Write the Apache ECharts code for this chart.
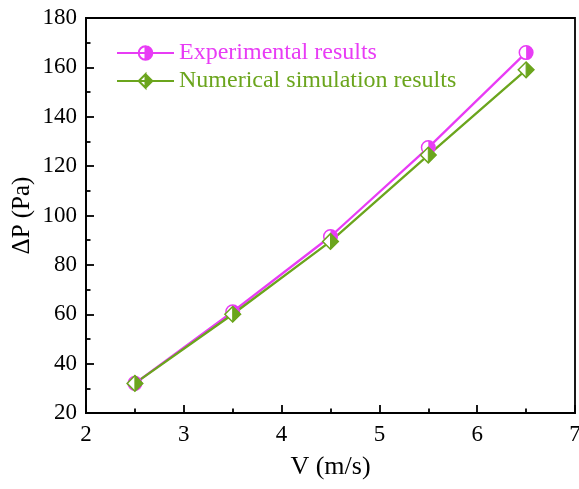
<!DOCTYPE html>
<html>
<head>
<meta charset="utf-8">
<script src="https://cdn.jsdelivr.net/npm/echarts@6/dist/echarts.min.js"></script>
<style>html,body{margin:0;padding:0;background:#fff}#c{width:579px;height:489px}</style>
</head>
<body>
<div id="c"></div>
<script>
const velocities = [2.5, 3.5, 4.5, 5.5, 6.5];
const experimental = [32, 61, 91.5, 127.5, 166];
const numerical = [32, 60, 89.5, 124.5, 159];
const seriesNames = ['Experimental results', 'Numerical simulation results'];

const MAG = '#E83CF5';
const GRN = '#6BA51D';
const FONT = '"Liberation Serif", "Times New Roman", serif';

const pairs = (ys) => velocities.map((v, i) => [v, ys[i]]);

const circlePath = 'path://M0,-10 A10,10 0 1,1 0,10 A10,10 0 1,1 0,-10 Z M0,-10 A10,10 0 0,0 0,10 Z';
const diamondPath = 'path://M0,-10 L10,0 L0,10 L-10,0 Z M0,-10 L-10,0 L0,10 Z';

function circleMarker(params, api) {
  const p = api.coord([api.value(0), api.value(1)]);
  const r = 6.8;
  return { type: 'group', children: [
    { type: 'circle', shape: { cx: p[0], cy: p[1], r: r }, style: { fill: '#fff', stroke: MAG, lineWidth: 1.5 } },
    { type: 'sector', shape: { cx: p[0], cy: p[1], r0: 0, r: r, startAngle: -Math.PI / 2, endAngle: Math.PI / 2 }, style: { fill: MAG } }
  ]};
}
function diamondMarker(params, api) {
  const p = api.coord([api.value(0), api.value(1)]);
  const d = 7.8;
  const x = p[0], y = p[1];
  return { type: 'group', children: [
    { type: 'polygon', shape: { points: [[x, y - d], [x + d, y], [x, y + d], [x - d, y]] }, style: { fill: '#fff', stroke: GRN, lineWidth: 1.5 } },
    { type: 'polygon', shape: { points: [[x, y - d], [x + d, y], [x, y + d]] }, style: { fill: GRN, stroke: GRN, lineWidth: 1 } }
  ]};
}

const chart = echarts.init(document.getElementById('c'), null, { renderer: 'canvas' });
chart.setOption({
  animation: false,
  backgroundColor: '#fff',
  grid: { left: 86, right: 4, top: 18, bottom: 76, show: true, borderColor: '#000', borderWidth: 1.8,
          backgroundColor: 'transparent', outerBoundsMode: 'none', containLabel: false },
  legend: {
    orient: 'vertical', left: 111, top: 36, itemWidth: 57, itemHeight: 17, itemGap: 4,
    data: [
      { name: seriesNames[0], textStyle: { color: MAG } },
      { name: seriesNames[1], textStyle: { color: GRN } }
    ],
    textStyle: { fontFamily: FONT, fontSize: 24 }
  },
  xAxis: {
    type: 'value', min: 2, max: 7, interval: 1,
    name: 'V (m/s)', nameLocation: 'middle', nameGap: 41, nameMoveOverlap: false,
    nameTextStyle: { fontFamily: FONT, fontSize: 26, color: '#000' },
    axisLine: { show: true, lineStyle: { color: '#000', width: 1.8 } },
    axisTick: { show: true, inside: true, length: 8, lineStyle: { color: '#000', width: 1.8 } },
    minorTick: { show: true, splitNumber: 2, length: 4.5, lineStyle: { color: '#000', width: 1.8 } },
    axisLabel: { fontFamily: FONT, fontSize: 23, color: '#000', margin: 10 },
    splitLine: { show: false }
  },
  yAxis: {
    type: 'value', min: 20, max: 180, interval: 20,
    name: 'ΔP (Pa)', nameLocation: 'middle', nameGap: 51, nameMoveOverlap: false,
    nameTextStyle: { fontFamily: FONT, fontSize: 25, color: '#000' },
    axisLine: { show: true, lineStyle: { color: '#000', width: 1.8 } },
    axisTick: { show: true, inside: true, length: 8, lineStyle: { color: '#000', width: 1.8 } },
    minorTick: { show: true, splitNumber: 2, length: 4.5, lineStyle: { color: '#000', width: 1.8 } },
    axisLabel: { fontFamily: FONT, fontSize: 23, color: '#000', margin: 9 },
    splitLine: { show: false }
  },
  series: [
    { name: seriesNames[0], type: 'line', data: pairs(experimental), showSymbol: false,
      symbol: circlePath, color: MAG, lineStyle: { color: MAG, width: 2.3 },
      itemStyle: { color: MAG, borderColor: MAG, borderWidth: 1 }, z: 2 },
    { name: seriesNames[1], type: 'line', data: pairs(numerical), showSymbol: false,
      symbol: diamondPath, color: GRN, lineStyle: { color: GRN, width: 2.3 },
      itemStyle: { color: GRN, borderColor: GRN, borderWidth: 1 }, z: 2 },
    { name: 'expMarkers', type: 'custom', data: pairs(experimental), renderItem: circleMarker, z: 4 },
    { name: 'numMarkers', type: 'custom', data: pairs(numerical), renderItem: diamondMarker, z: 5 }
  ]
});
</script>
</body>
</html>
